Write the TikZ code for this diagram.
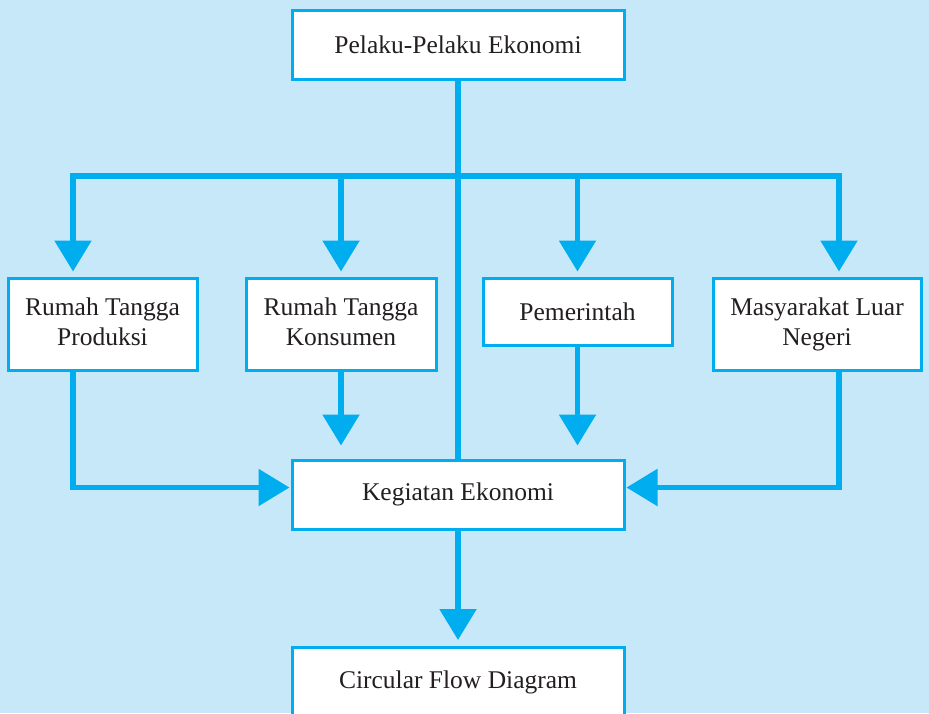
\documentclass[tikz,border=0pt]{standalone}
\usepackage{fontspec}
\setmainfont{Liberation Serif}
\usetikzlibrary{arrows.meta}
\definecolor{bgblue}{HTML}{C6E8F8}
\definecolor{cyanline}{HTML}{00AEEF}
\definecolor{txt}{HTML}{231F20}
\begin{document}
\begin{tikzpicture}[x=1pt,y=-1pt,
  box/.style={draw=cyanline,line width=3pt,fill=white,text=txt,align=center,
    inner sep=0pt,font=\fontsize{25.5}{30}\selectfont},
  conn/.style={draw=cyanline,line width=5.5pt,line cap=rect,line join=miter},
  arr/.style={conn,-{Triangle[width=36pt,length=31pt]}}]
\fill[bgblue] (0,0) rectangle (929,713);
\useasboundingbox (0,0) rectangle (929,713);

\node[box,minimum width=332pt,minimum height=69pt] (top) at (458,44.5) {Pelaku-Pelaku Ekonomi};
\node[box,minimum width=189pt,minimum height=92pt] (b1) at (102.5,324) {\strut Rumah Tangga\\\strut Produksi};
\node[box,minimum width=190pt,minimum height=92pt] (b2) at (341,324) {\strut Rumah Tangga\\\strut Konsumen};
\node[box,minimum width=189pt,minimum height=67pt] (b3) at (577.5,311.5) {Pemerintah};
\node[box,minimum width=208pt,minimum height=92pt] (b4) at (817,324) {\strut Masyarakat Luar\\\strut Negeri};
\node[box,minimum width=332pt,minimum height=69pt] (keg) at (458,494.5) {Kegiatan Ekonomi};
\node[box,minimum width=332pt,minimum height=69pt,anchor=north] (circ) at (458,646) {Circular Flow Diagram};

\coordinate (busL) at (73,176);
\coordinate (busR) at (839,176);
\coordinate (kegL) at ([yshift=7pt]keg.west);
\coordinate (kegR) at ([yshift=7pt]keg.east);

% central trunk
\draw[conn,line cap=butt] (top.south) -- (keg.north);
% bus
\draw[conn] (busL) -- (busR);
% branches to the four boxes
\draw[arr,shorten >=5pt] (busL) -- (busL |- b1.north);
\draw[arr,shorten >=5pt] (b2.north |- busL) -- (b2.north);
\draw[arr,shorten >=5pt] (b3.north |- busL) -- (b3.north);
\draw[arr,shorten >=5pt] (busR) -- (busR |- b4.north);
% into Kegiatan Ekonomi
\draw[arr,shorten >=1pt] (busL |- b1.south) -- (busL |- kegL) -- (kegL);
\draw[arr,shorten >=1pt] (busR |- b4.south) -- (busR |- kegR) -- (kegR);
\draw[arr,line cap=butt,shorten >=13pt] (b2.south) -- (b2.south |- keg.north);
\draw[arr,line cap=butt,shorten >=13pt] (b3.south) -- (b3.south |- keg.north);
% to Circular Flow Diagram
\draw[arr,line cap=butt,shorten >=6pt] (keg.south) -- (circ.north);
\end{tikzpicture}
\end{document}
